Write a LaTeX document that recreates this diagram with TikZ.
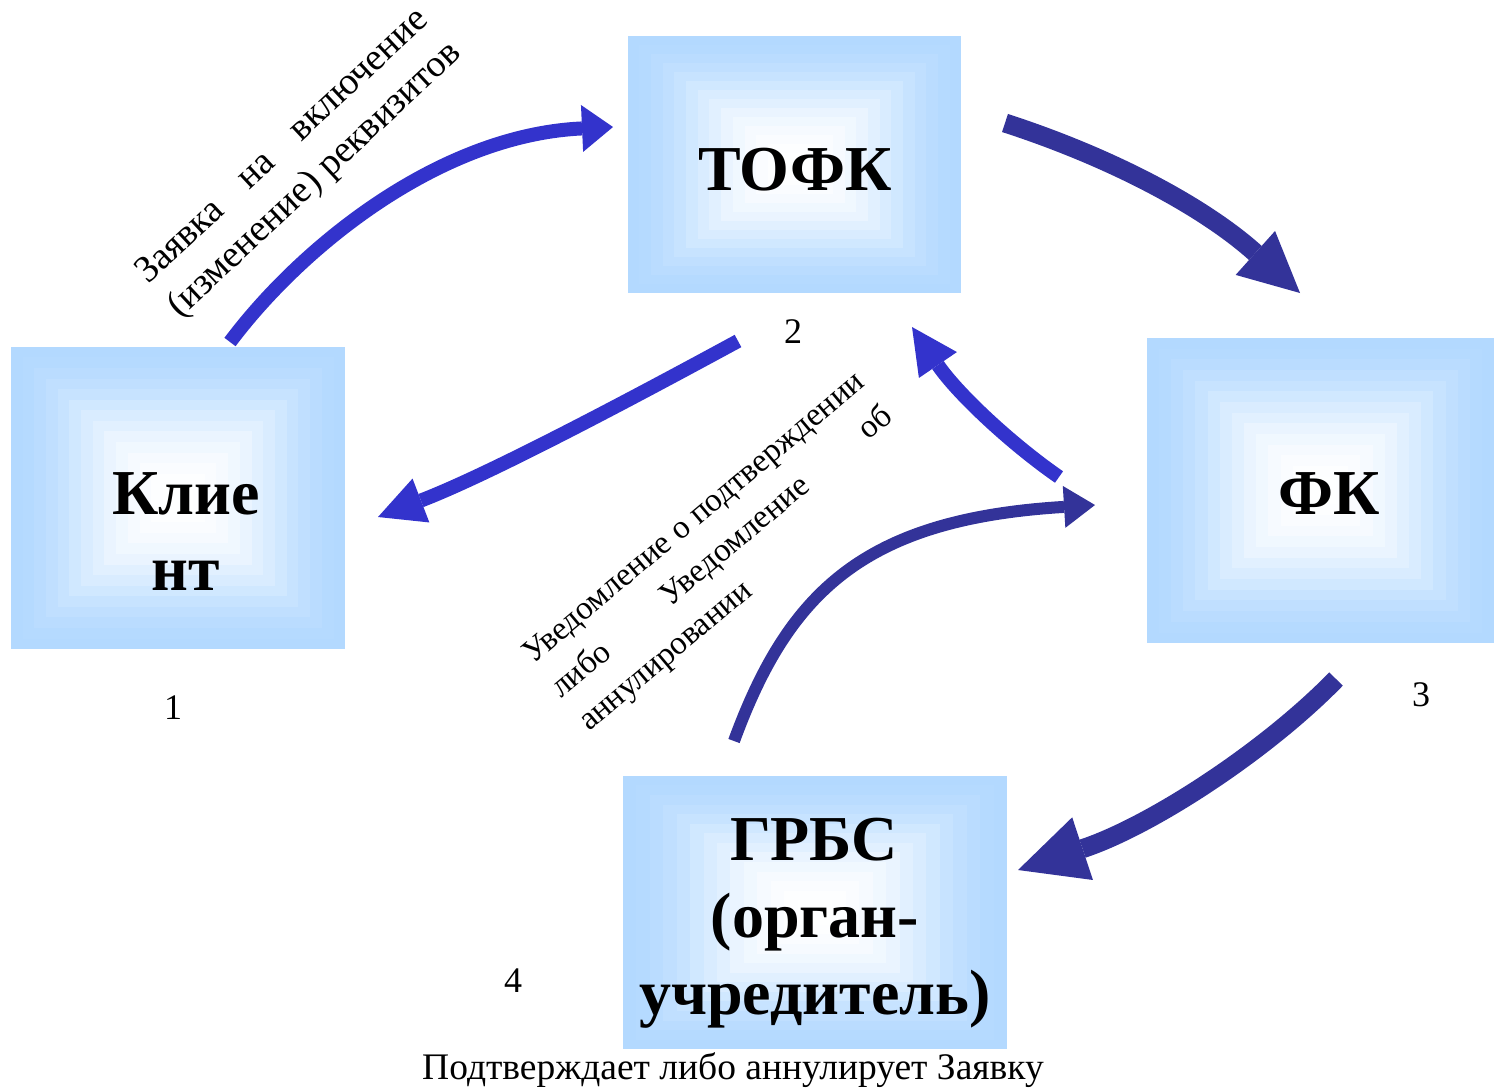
\documentclass[tikz,border=0pt]{standalone}
\usepackage{fontspec}
\setmainfont{Liberation Serif}
\usetikzlibrary{arrows.meta,calc}
\definecolor{boxblue}{HTML}{B3D9FF}
\definecolor{abright}{HTML}{3333CC}
\definecolor{adark}{HTML}{333399}
\newlength\lineBw
\newcommand\gradfill[1]{%
  \foreach \ff/\pp in {0/100,0.07/97,0.14/91,0.21/83,0.28/73,0.35/62,0.42/50,0.49/39,0.56/28,0.63/19,0.70/12,0.77/7,0.84/3,0.91/1}{%
    \fill[boxblue!\pp!white] ($(#1.south west)!\ff!(#1.center)$) rectangle ($(#1.north east)!\ff!(#1.center)$);}}
\begin{document}
\settowidth{\lineBw}{\fontsize{33}{40}\selectfont Уведомление о подтверждении}
\begin{tikzpicture}[x=1pt,y=-1pt,
  box/.style={rectangle, inner sep=0pt, draw=none},
  boxtext/.style={inner sep=0pt, anchor=base, font=\bfseries\fontsize{64}{76}\selectfont},
  numtext/.style={inner sep=0pt, anchor=base, font=\fontsize{36}{40}\selectfont},
  labA/.style={inner sep=0pt, anchor=base west, rotate=43, font=\fontsize{38}{44}\selectfont},
  labB/.style={inner sep=0pt, anchor=base west, rotate=40, font=\fontsize{33}{40}\selectfont},
  flowbright/.style={draw=abright, line width=14pt},
  flowdark/.style={draw=adark},
]
\useasboundingbox (0,0) rectangle (1495,1088);

% boxes
\node[box, minimum width=333pt, minimum height=257pt] (tofk) at (794.5,164.5) {};
\node[box, minimum width=334pt, minimum height=302pt] (client) at (178,498) {};
\node[box, minimum width=347pt, minimum height=305pt] (fk) at (1320.5,490.5) {};
\node[box, minimum width=384pt, minimum height=273pt] (grbs) at (815,912.5) {};
\gradfill{tofk}
\gradfill{client}
\gradfill{fk}
\gradfill{grbs}

% box texts
\node[boxtext] (tofkT) at (795,190) {ТОФК};
\node[boxtext] (klT1) at (186,514) {Клие};
\node[boxtext] (klT2) at (186,590) {нт};
\node[boxtext] (fkT) at (1329,514) {ФК};
\node[boxtext] (grT1) at (814,860) {ГРБС};
\node[boxtext] (grT2) at (815,937) {(орган-};
\node[boxtext] (grT3) at (815,1014) {учредитель)};

% arrow end points
\coordinate (a1s) at (230,342);  \coordinate (a1e) at (613,127);
\coordinate (a2s) at (1005,123); \coordinate (a2e) at (1300,293);
\coordinate (a3s) at (738,341);  \coordinate (a3e) at (378,517);
\coordinate (a4s) at (1059,477); \coordinate (a4e) at (912,327);
\coordinate (a5s) at (734,741);  \coordinate (a5e) at (1095,505);
\coordinate (a6s) at (1336,679); \coordinate (a6e) at (1018,870);

\draw[flowbright, -{Triangle[length=31pt 0 1, width=47pt 0 1, line width=0pt 0 0]}]
  (a1s) .. controls (302,246) and (440,135) .. (a1e);
\draw[flowdark, line width=19pt, -{Triangle[length=60pt 0 1, width=59pt 0 1, line width=0pt 0 0]}]
  (a2s) .. controls (1110,157) and (1203,206) .. (a2e);
\draw[flowbright, -{Triangle[length=46pt 0 1, width=47pt 0 1, line width=0pt 0 0]}]
  (a3s) .. controls (633,398) and (490,474) .. (a3e);
\draw[flowbright, -{Triangle[length=46pt 0 1, width=46pt 0 1, line width=0pt 0 0]}]
  (a4s) .. controls (1010,443) and (957,393) .. (a4e);
\draw[flowdark, line width=12pt, -{Triangle[length=31pt 0 1, width=42pt 0 1, line width=0pt 0 0]}]
  (a5s) .. controls (789,591) and (865,519) .. (a5e);
\draw[flowdark, line width=19pt, -{Triangle[length=68pt 0 1, width=66pt 0 1, line width=0pt 0 0]}]
  (a6s) .. controls (1266,751) and (1151,826) .. (a6e);

% rotated labels
\node[labA] (tA1) at (148,285) {\makebox[385pt][s]{Заявка на включение}};
\node[labA] (tA2) at (180,319) {(изменение) реквизитов};
\node[labB] (tB1) at (533,665) {Уведомление о подтверждении};
\node[labB] (tB2) at (561,699) {\makebox[\lineBw][s]{либо Уведомление об}};
\node[labB] (tB3) at (589,732) {аннулировании};

% numbers
\node[numtext] (n1) at (173,719) {1};
\node[numtext] (n2) at (793,343) {2};
\node[numtext] (n3) at (1421,706) {3};
\node[numtext] (n4) at (513,992) {4};

% caption
\node[numtext, font=\fontsize{37.5}{42}\selectfont] (cap) at (733,1079) {Подтверждает либо аннулирует Заявку};
\end{tikzpicture}
\end{document}
